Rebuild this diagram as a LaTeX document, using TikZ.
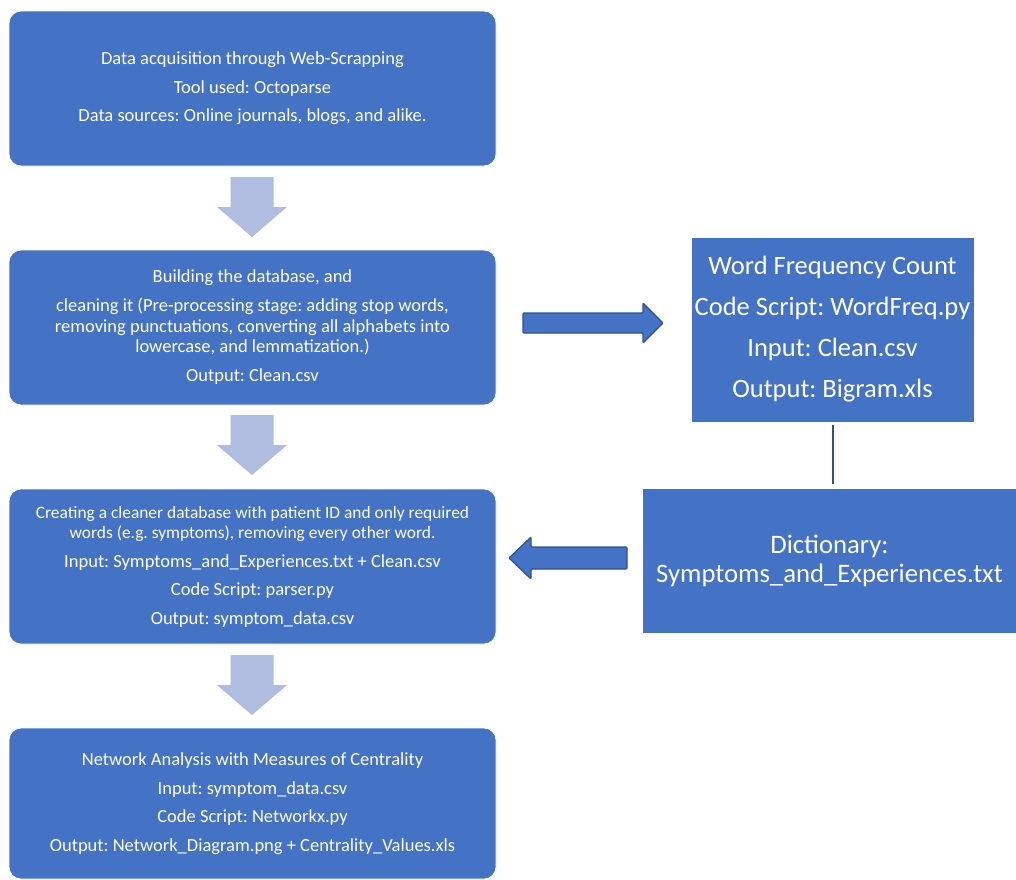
\documentclass[tikz,border=0pt]{standalone}
\usepackage{fontspec}
\setmainfont{Carlito}
\usetikzlibrary{calc}
\definecolor{boxblue}{HTML}{4472C4}
\definecolor{arrowlight}{HTML}{B0BDE0}
\definecolor{darkblue}{HTML}{2F528F}
\frenchspacing
\begin{document}
\begin{tikzpicture}[x=1pt,y=-1pt,
  mainbox/.style={rounded corners=12pt, fill=boxblue, draw=white, line width=0.8pt,
    minimum width=487pt, minimum height=155pt, text=white, align=center, inner sep=0pt,
    font=\fontsize{18.5}{20.5}\selectfont},
  sidebox/.style={fill=boxblue, draw=white, line width=0.8pt, text=white, align=center, inner sep=0pt},
  downarr/.style={fill=arrowlight},
  sidearr/.style={fill=boxblue, draw=darkblue, line width=1.2pt, rounded corners=1pt},
  link/.style={draw=darkblue, line width=2pt}]
\useasboundingbox (0,0) rectangle (1016,879);
\fill[white] (0,0) rectangle (1016,879);

\node[mainbox] (b1) at (252.5,88.5) {Data acquisition through Web-Scrapping\\[8pt]
Tool used: Octoparse\\[8pt]
Data sources: Online journals, blogs, and alike.};

\node[mainbox] (b2) at (252.5,327.5) {Building the database, and\\[8.5pt]
cleaning it (Pre-processing stage: adding stop words,\\
removing punctuations, converting all alphabets into\\
lowercase, and lemmatization.)\\[8.5pt]
Output: Clean.csv};

\node[mainbox] (b3) at (252.5,566.5) {{\fontsize{17.4}{20}\selectfont Creating a cleaner database with patient ID and only required}\\
{\fontsize{17.4}{20}\selectfont words (e.g. symptoms), removing every other word.}\\[8pt]
Input: Symptoms\_and\_Experiences.txt + Clean.csv\\[8pt]
Code Script: parser.py\\[8pt]
Output: symptom\_data.csv};

\node[mainbox, minimum height=151pt] (b4) at (252.5,803.5) {Network Analysis with Measures of Centrality\\[8pt]
Input: symptom\_data.csv\\[8pt]
Code Script: Networkx.py\\[8pt]
Output: Network\_Diagram.png + Centrality\_Values.xls};

\node[sidebox, minimum width=283pt, minimum height=185pt, font=\fontsize{26.5}{41}\selectfont] (wfc) at (832.5,329.5)
{Word Frequency Count\\Code Script: WordFreq.py\\Input: Clean.csv\\Output: Bigram.xls};

\node[sidebox, minimum width=375pt, minimum height=145pt, font=\fontsize{26.7}{29}\selectfont] (dict) at (829.5,560.5)
{Dictionary:\\Symptoms\_and\_Experiences.txt};

% block arrows down
\foreach \yy in {177,415,655}{
  \fill[downarr, shift={(252,\yy)}] (-21.5,0) -- (21.5,0) -- (21.5,30) -- (35,30) -- (0,60) -- (-35,30) -- (-21.5,30) -- cycle;
}

% side arrows
\filldraw[sidearr] (523,313) -- (643,313) -- (643,303) -- (663,323) -- (643,343) -- (643,333) -- (523,333) -- cycle;
\filldraw[sidearr] (627,547) -- (531,547) -- (531,537) -- (509,558) -- (531,579) -- (531,569) -- (627,569) -- cycle;

% link
\draw[link, shorten <=3pt, shorten >=4pt] (wfc.south) -- (wfc.south |- dict.north);
\end{tikzpicture}
\end{document}
